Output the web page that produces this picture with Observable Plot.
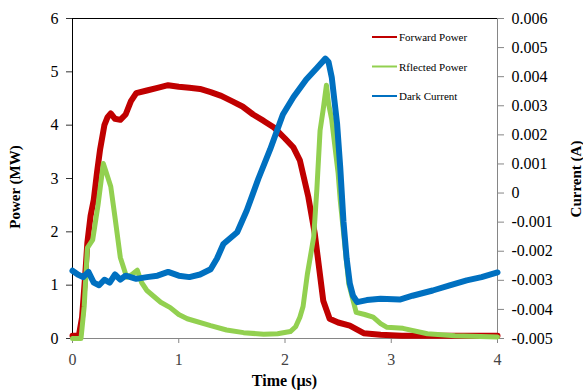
<!DOCTYPE html>
<html><head><meta charset="utf-8">
<script src="https://cdn.jsdelivr.net/npm/d3@7"></script>
<script src="https://cdn.jsdelivr.net/npm/@observablehq/plot@0.6"></script>
<style>body{margin:0;background:#fff;} #chart{width:583px;height:391px;} #chart svg, #chart svg text{font-family:"Liberation Serif","Times New Roman",serif !important;}</style>
</head><body><div id="chart"></div>
<script>
// Forward Power (MW)
const fwdTime  = [0, 0.06, 0.09, 0.12, 0.14, 0.17, 0.2, 0.23, 0.26, 0.3, 0.33, 0.36, 0.4, 0.45, 0.5, 0.55, 0.6, 0.7, 0.8, 0.9, 1.0, 1.1, 1.2, 1.3, 1.4, 1.5, 1.6, 1.7, 1.8, 1.9, 2.0, 2.08, 2.14, 2.22, 2.28, 2.36, 2.42, 2.5, 2.61, 2.74, 2.9, 3.1, 3.5, 4.0];
const fwdPower = [0.05, 0.05, 0.4, 1.2, 1.8, 2.3, 2.6, 3.1, 3.55, 4.0, 4.15, 4.22, 4.12, 4.1, 4.2, 4.45, 4.6, 4.65, 4.7, 4.75, 4.72, 4.7, 4.68, 4.62, 4.55, 4.45, 4.35, 4.2, 4.08, 3.95, 3.75, 3.58, 3.34, 2.65, 1.97, 0.71, 0.37, 0.3, 0.24, 0.1, 0.07, 0.05, 0.05, 0.05];
// Reflected Power (MW)
const refTime  = [0, 0.08, 0.11, 0.14, 0.19, 0.24, 0.29, 0.32, 0.36, 0.4, 0.45, 0.51, 0.56, 0.61, 0.65, 0.7, 0.83, 0.92, 1.0, 1.08, 1.3, 1.45, 1.61, 1.8, 1.93, 2.05, 2.1, 2.14, 2.17, 2.21, 2.27, 2.3, 2.33, 2.36, 2.39, 2.41, 2.44, 2.5, 2.52, 2.6, 2.67, 2.75, 2.83, 2.9, 2.96, 3.11, 3.34, 3.6, 4.0];
const refPower = [0, 0, 0.6, 1.7, 1.85, 2.5, 3.28, 3.1, 2.85, 2.27, 1.52, 1.15, 1.2, 1.28, 1.05, 0.9, 0.68, 0.58, 0.45, 0.37, 0.24, 0.16, 0.11, 0.08, 0.09, 0.13, 0.22, 0.4, 0.6, 1.2, 1.9, 2.8, 3.9, 4.3, 4.75, 4.4, 4.1, 3.1, 2.59, 1.03, 0.49, 0.45, 0.4, 0.28, 0.21, 0.19, 0.09, 0.05, 0.03];
// Dark Current (A)
const darkTime    = [0, 0.05, 0.1, 0.15, 0.2, 0.25, 0.3, 0.35, 0.4, 0.45, 0.5, 0.6, 0.7, 0.8, 0.9, 1.0, 1.1, 1.2, 1.3, 1.36, 1.42, 1.55, 1.64, 1.75, 1.86, 1.98, 2.08, 2.2, 2.3, 2.38, 2.41, 2.44, 2.49, 2.52, 2.55, 2.58, 2.61, 2.64, 2.68, 2.77, 2.9, 3.08, 3.2, 3.39, 3.55, 3.71, 3.85, 4.0];
const darkCurrent = [-0.00267, -0.0028, -0.00289, -0.00271, -0.00308, -0.00317, -0.00298, -0.00308, -0.0028, -0.00298, -0.00284, -0.00295, -0.00289, -0.00284, -0.00271, -0.00284, -0.00289, -0.0028, -0.00262, -0.00225, -0.00175, -0.00135, -0.0006, 0.0005, 0.0015, 0.0027, 0.0033, 0.0039, 0.0043, 0.00462, 0.0045, 0.00398, 0.00239, 0.00087, -0.00097, -0.00225, -0.00311, -0.00353, -0.00375, -0.00368, -0.00363, -0.00366, -0.00353, -0.00335, -0.00317, -0.003, -0.00289, -0.00273];

const powerTicks = [0, 1, 2, 3, 4, 5, 6];
const powerLabels = ["0", "1", "2", "3", "4", "5", "6"];
const timeTicks = [0, 1, 2, 3, 4];
const timeLabels = ["0", "1", "2", "3", "4"];
const currentTicks = [-0.005, -0.004, -0.003, -0.002, -0.001, 0, 0.001, 0.002, 0.003, 0.004, 0.005, 0.006];
const currentLabels = ["-0.005", "-0.004", "-0.003", "-0.002", "-0.001", "0", "0.001", "0.002", "0.003", "0.004", "0.005", "0.006"];
const seriesNames = ["Forward Power", "Rflected Power", "Dark Current"];
const seriesColors = ["#C00000", "#92D050", "#0070C0"];

const curMin = -0.005, curMax = 0.006, pMax = 6;
const toLeft = c => (c - curMin) * pMax / (curMax - curMin);

const fwd = fwdTime.map((t, i) => ({t, v: fwdPower[i]}));
const ref = refTime.map((t, i) => ({t, v: refPower[i]}));
const dark = darkTime.map((t, i) => ({t, v: toLeft(darkCurrent[i])}));

const font = "Liberation Serif";
const chart = Plot.plot({
  width: 583, height: 391,
  marginLeft: 72, marginRight: 86, marginTop: 18, marginBottom: 53,
  style: {fontFamily: "Liberation Serif", fontSize: "16px", background: "#fff", color: "#000"},
  x: {domain: [0, 4]},
  y: {domain: [0, 6]},
  marks: [
    Plot.ruleY([0], {stroke: "#868686", strokeWidth: 1}),
    Plot.ruleX([4], {stroke: "#868686", strokeWidth: 1}),
    Plot.ruleY([6], {stroke: "#000", strokeWidth: 1}),
    Plot.ruleX([0], {stroke: "#000", strokeWidth: 1}),
    Plot.axisY(powerTicks, {anchor: "left", tickSize: 6, tickPadding: 8, label: null, stroke: "#333", fill: "#000", fontFamily: font, fontSize: 16, tickFormat: (d, i) => powerLabels[i]}),
    Plot.axisY(currentTicks.map(toLeft), {anchor: "right", tickSize: 6, tickPadding: 8, label: null, stroke: "#868686", fill: "#000", fontFamily: font, fontSize: 16, tickFormat: (d, i) => currentLabels[i]}),
    Plot.axisX(timeTicks, {anchor: "bottom", tickSize: 5, tickPadding: 10, label: null, stroke: "#868686", fill: "#444", fontFamily: font, fontSize: 16, tickFormat: (d, i) => timeLabels[i]}),
    Plot.line(fwd, {x: "t", y: "v", stroke: seriesColors[0], strokeWidth: 6}),
    Plot.line(ref, {x: "t", y: "v", stroke: seriesColors[1], strokeWidth: 5}),
    Plot.line(dark, {x: "t", y: "v", stroke: seriesColors[2], strokeWidth: 6})
  ]
});
document.getElementById("chart").appendChild(chart);

const svg = d3.select(chart);
const xs = chart.scale("x"), ys = chart.scale("y");
const midY = (ys.apply(0) + ys.apply(6)) / 2;
svg.append("text").attr("transform", `translate(20,${midY + 9}) rotate(-90)`)
  .attr("text-anchor", "middle").attr("font-weight", "bold").attr("font-size", 15).attr("font-family", font)
  .text("Power (MW)");
svg.append("text").attr("transform", `translate(581,${midY + 1}) rotate(-90)`)
  .attr("text-anchor", "middle").attr("font-weight", "bold").attr("font-size", 15).attr("font-family", font)
  .text("Current (A)");
svg.append("text").attr("x", xs.apply(2)).attr("y", 386)
  .attr("text-anchor", "middle").attr("font-weight", "bold").attr("font-size", 16).attr("font-family", font)
  .text("Time (µs)");

const lg = svg.append("g").attr("font-family", font).attr("font-size", 11).attr("text-anchor", "start");
seriesNames.forEach((name, i) => {
  const yy = 37 + i * 29.5;
  lg.append("line").attr("x1", 372).attr("x2", 397).attr("y1", yy).attr("y2", yy)
    .attr("stroke", seriesColors[i]).attr("stroke-width", 2);
  lg.append("text").attr("x", 399).attr("y", yy + 4).attr("text-anchor", "start").text(name);
});
</script>
</body></html>
